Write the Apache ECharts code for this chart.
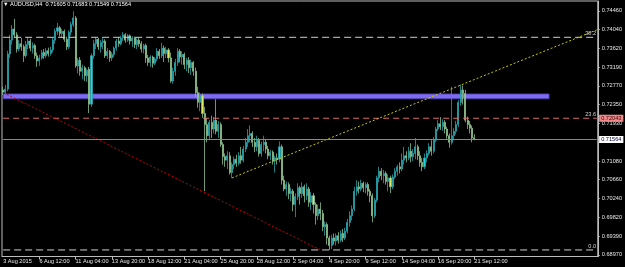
<!DOCTYPE html>
<html><head><meta charset="utf-8">
<script src="https://cdn.jsdelivr.net/npm/echarts@6/dist/echarts.min.js"></script>
<style>html,body{margin:0;padding:0;background:#000}#c{width:625px;height:267px}</style>
</head><body><div id="c"></div>
<script>
const symbolName = 'AUDUSD,H4';
const xTickLabels = ['3 Aug 2015','6 Aug 12:00','11 Aug 04:00','13 Aug 20:00','18 Aug 12:00','21 Aug 04:00','25 Aug 20:00','28 Aug 12:00','2 Sep 04:00','4 Sep 20:00','9 Sep 12:00','14 Sep 04:00','16 Sep 20:00','21 Sep 12:00'];
const barsPerLabel = 16;
const totalSlots = 263;
const yTickValues = [0.74460,0.74040,0.73620,0.73190,0.72770,0.72350,0.71930,0.71510,0.71080,0.70660,0.70240,0.69820,0.69390,0.68970];
const yMin = 0.68932, yMax = 0.74681;
// [open, close, low, high]
const ohlc = [
[.7268,.7263,.7257,.7275],[.7263,.7270,.7259,.7279],[.7270,.7349,.7265,.7356],[.7349,.7380,.7340,.7392],[.7380,.7405,.7370,.7414],
[.7405,.7392,.7385,.7428],[.7392,.7360,.7352,.7398],[.7360,.7372,.7355,.7380],[.7372,.7365,.7356,.7385],[.7365,.7345,.7331,.7370],
[.7345,.7370,.7340,.7378],[.7370,.7378,.7360,.7387],[.7378,.7362,.7355,.7383],[.7362,.7368,.7350,.7375],[.7368,.7345,.7338,.7372],
[.7345,.7333,.7320,.7352],[.7333,.7340,.7322,.7347],[.7340,.7352,.7336,.7358],[.7352,.7345,.7338,.7360],[.7345,.7356,.7340,.7362],
[.7356,.7350,.7343,.7363],[.7350,.7358,.7345,.7365],[.7358,.7380,.7352,.7385],[.7380,.7400,.7372,.7406],[.7400,.7408,.7392,.7419],
[.7408,.7395,.7388,.7412],[.7395,.7400,.7385,.7405],[.7400,.7382,.7376,.7404],[.7382,.7365,.7358,.7388],[.7365,.7398,.7360,.7402],
[.7398,.7415,.7390,.7421],[.7415,.7430,.7410,.7445],[.7430,.7322,.7318,.7434],[.7322,.7335,.7305,.7340],[.7335,.7310,.7300,.7342],
[.7310,.7318,.7292,.7325],[.7318,.7300,.7288,.7322],[.7300,.7312,.7286,.7316],[.7315,.7236,.7216,.7320],[.7236,.7345,.7230,.7350],
[.7345,.7372,.7338,.7380],[.7372,.7382,.7360,.7387],[.7382,.7365,.7358,.7385],[.7365,.7375,.7352,.7380],[.7375,.7378,.7360,.7385],
[.7378,.7345,.7340,.7382],[.7345,.7355,.7338,.7362],[.7355,.7340,.7331,.7358],[.7340,.7348,.7333,.7353],[.7348,.7362,.7342,.7366],
[.7362,.7378,.7356,.7383],[.7378,.7372,.7365,.7387],[.7372,.7385,.7368,.7390],[.7385,.7392,.7378,.7398],[.7392,.7380,.7374,.7396],
[.7380,.7390,.7376,.7394],[.7390,.7378,.7370,.7393],[.7378,.7385,.7365,.7389],[.7385,.7370,.7362,.7388],[.7370,.7380,.7360,.7384],
[.7380,.7372,.7365,.7385],[.7372,.7360,.7352,.7378],[.7360,.7368,.7350,.7372],[.7368,.7340,.7329,.7372],[.7340,.7330,.7322,.7347],
[.7330,.7342,.7320,.7346],[.7342,.7328,.7318,.7345],[.7328,.7338,.7324,.7342],[.7338,.7355,.7332,.7362],[.7355,.7345,.7338,.7360],
[.7345,.7362,.7340,.7374],[.7362,.7350,.7331,.7368],[.7350,.7358,.7340,.7365],[.7358,.7340,.7330,.7362],[.7340,.7288,.7284,.7352],
[.7288,.7310,.7282,.7318],[.7310,.7330,.7300,.7338],[.7330,.7355,.7322,.7362],[.7355,.7342,.7330,.7360],[.7342,.7348,.7325,.7355],
[.7348,.7325,.7315,.7352],[.7325,.7335,.7310,.7340],[.7335,.7318,.7306,.7342],[.7318,.7330,.7302,.7336],[.7330,.7310,.7300,.7333],
[.7310,.7262,.7252,.7318],[.7262,.7240,.7228,.7275],[.7240,.7255,.7220,.7262],[.7255,.7215,.7205,.7260],[.7215,.7190,.7040,.7230],
[.7190,.7165,.7150,.7205],[.7165,.7195,.7155,.7200],[.7195,.7180,.7160,.7210],[.7180,.7200,.7170,.7207],[.7200,.7175,.7168,.7247],
[.7175,.7190,.7160,.7198],[.7190,.7145,.7140,.7195],[.7145,.7118,.7100,.7150],[.7118,.7110,.7095,.7125],[.7110,.7120,.7090,.7130],
[.7120,.7082,.7078,.7128],[.7082,.7100,.7070,.7105],[.7100,.7112,.7090,.7118],[.7112,.7103,.7095,.7122],[.7103,.7120,.7098,.7128],
[.7120,.7110,.7102,.7140],[.7110,.7135,.7105,.7142],[.7135,.7150,.7128,.7160],[.7150,.7165,.7140,.7180],[.7165,.7170,.7150,.7188],
[.7170,.7150,.7140,.7175],[.7150,.7140,.7128,.7160],[.7140,.7155,.7130,.7165],[.7155,.7125,.7118,.7160],[.7125,.7145,.7118,.7152],
[.7145,.7150,.7130,.7165],[.7150,.7135,.7125,.7158],[.7135,.7120,.7112,.7142],[.7120,.7128,.7110,.7133],[.7128,.7108,.7100,.7132],
[.7108,.7115,.7082,.7120],[.7115,.7112,.7100,.7125],[.7112,.7140,.7105,.7152],[.7140,.7065,.7055,.7145],[.7065,.7045,.7040,.7075],
[.7045,.7055,.7030,.7062],[.7055,.7035,.7022,.7060],[.7035,.7040,.7018,.7048],[.7040,.7010,.6995,.7045],[.7010,.7028,.6982,.7035],
[.7028,.7048,.7020,.7058],[.7048,.7035,.7010,.7052],[.7035,.7050,.7025,.7060],[.7050,.7030,.7015,.7055],[.7030,.7045,.7020,.7058],
[.7045,.7015,.7005,.7050],[.7015,.7030,.6998,.7038],[.7030,.7010,.6990,.7036],[.7010,.6985,.6965,.7015],[.6985,.7000,.6975,.7010],
[.7000,.6990,.6975,.7015],[.6990,.6960,.6950,.6998],[.6960,.6965,.6940,.6972],[.6965,.6935,.6920,.6970],[.6935,.6918,.6908,.6940],
[.6918,.6935,.6910,.6942],[.6935,.6928,.6920,.6945],[.6928,.6940,.6918,.6945],[.6940,.6930,.6922,.6948],[.6930,.6945,.6925,.6952],
[.6945,.6935,.6926,.6955],[.6935,.6950,.6930,.6958],[.6950,.6970,.6945,.6978],[.6970,.6985,.6960,.6995],[.6985,.7000,.6975,.7008],
[.7000,.7040,.6995,.7050],[.7040,.7050,.7030,.7065],[.7050,.7045,.7035,.7062],[.7045,.7058,.7040,.7066],[.7058,.7048,.7038,.7062],
[.7048,.7055,.7035,.7060],[.7055,.7040,.7030,.7060],[.7040,.7030,.7015,.7045],[.7030,.6985,.6970,.7035],[.6985,.7020,.6980,.7025],
[.7020,.7070,.7015,.7075],[.7070,.7085,.7060,.7095],[.7085,.7075,.7065,.7092],[.7075,.7080,.7058,.7088],[.7080,.7062,.7055,.7085],
[.7062,.7070,.7040,.7078],[.7070,.7050,.7036,.7075],[.7050,.7072,.7045,.7078],[.7072,.7085,.7068,.7092],[.7085,.7095,.7075,.7100],
[.7095,.7090,.7080,.7105],[.7090,.7110,.7085,.7125],[.7110,.7120,.7100,.7140],[.7120,.7115,.7105,.7130],[.7115,.7130,.7110,.7140],
[.7130,.7118,.7105,.7148],[.7118,.7125,.7108,.7135],[.7125,.7140,.7112,.7160],[.7140,.7120,.7110,.7145],[.7120,.7105,.7095,.7130],
[.7105,.7095,.7085,.7115],[.7095,.7115,.7090,.7125],[.7115,.7125,.7105,.7132],[.7125,.7140,.7120,.7148],[.7140,.7130,.7120,.7155],
[.7130,.7155,.7125,.7162],[.7155,.7180,.7150,.7185],[.7180,.7192,.7175,.7200],[.7192,.7185,.7178,.7207],[.7185,.7195,.7176,.7202],
[.7195,.7180,.7170,.7200],[.7180,.7165,.7158,.7185],[.7165,.7150,.7138,.7170],[.7150,.7165,.7145,.7275],[.7165,.7175,.7155,.7182],
[.7175,.7190,.7168,.7198],[.7190,.7240,.7185,.7245],[.7240,.7268,.7232,.7280],[.7268,.7260,.7235,.7278],[.7260,.7200,.7195,.7268],
[.7200,.7190,.7180,.7208],[.7190,.7182,.7170,.7198],[.7182,.7160,.7150,.7188],[.71605,.71564,.71549,.71683]
];
const bidPrice = 0.71564;
const redLevel = 0.72043;
const fibTop = {name:'38.2', value:0.73864};
const fibMid = {name:'23.6', value:0.72043};
const fibZero = {name:'0.0', value:0.69079};
const zoneLow = 0.7248, zoneHigh = 0.7259, zoneEndSlot = 241;
const trendUp = [[101,0.7070],[262,0.7403]];
const trendDown = [[0,0.7262],[140,0.6908]];

const categories = Array.from({length: totalSlots}, (_, i) => String(i));
const lastBar = ohlc[ohlc.length - 1];
const fmt = v => v.toFixed(5);
const showIdx = i => i % barsPerLabel === 0 && i / barsPerLabel < xTickLabels.length;
const FONT = 'Liberation Sans';
const FS = 5.6;
const lastSlot = totalSlots - 1;

// horizontal level drawn as a two-point line series across the whole plot
function level(value, lineStyle, endLabel, z) {
  return {
    type: 'line', silent: true, z: z || 3, animation: false,
    symbol: 'rect', symbolSize: 1, showSymbol: true, showAllSymbol: true,
    lineStyle: lineStyle,
    itemStyle: {color: 'rgba(0,0,0,0)', borderWidth: 0},
    data: [
      {value: [0, value], label: {show: false}},
      {value: [lastSlot, value], label: Object.assign({show: true, fontSize: FS, fontFamily: FONT}, endLabel)}
    ]
  };
}

const chart = echarts.init(document.getElementById('c'), null, {renderer:'canvas'});
chart.setOption({
  backgroundColor: '#000',
  animation: false,
  title: {
    text: '\u25BC ' + symbolName + '  ' + [lastBar[0], lastBar[3], lastBar[2], lastBar[1]].map(fmt).join(' '),
    left: 3, top: 1, padding: 0,
    textStyle: {color:'#ffffff', fontSize: FS, fontWeight:'normal', fontFamily: FONT}
  },
  grid: {left: 2, right: 24.5, top: 1, bottom: 10.5, show: true, borderColor: '#bdbdbd', borderWidth: 1, backgroundColor: '#000'},
  xAxis: {
    type: 'category', data: categories, boundaryGap: true,
    axisLine: {show: true, lineStyle: {color: '#bdbdbd'}},
    axisTick: {show: true, alignWithLabel: true, length: 3, interval: (i) => showIdx(i) && i > 0, lineStyle: {color: '#bdbdbd'}},
    axisLabel: {
      show: true, interval: (i) => showIdx(i), margin: 2, align: 'left',
      color: '#e8e8e8', fontSize: FS, fontFamily: FONT,
      formatter: (v, i) => showIdx(i) ? xTickLabels[i / barsPerLabel] : ''
    },
    splitLine: {show: false}
  },
  yAxis: {
    type: 'value', position: 'right', min: yMin, max: yMax,
    axisLine: {show: true, lineStyle: {color: '#bdbdbd'}},
    axisTick: {show: true, length: 2, customValues: yTickValues, lineStyle: {color: '#bdbdbd'}},
    axisLabel: {show: true, customValues: yTickValues, margin: 4, color: '#e8e8e8', fontSize: FS, fontFamily: FONT, formatter: v => fmt(v)},
    splitLine: {show: false}
  },
  series: [
    {
      type: 'candlestick', data: ohlc, barWidth: '68%', z: 2,
      itemStyle: {color: '#22d6e4', color0: '#dde65e', borderColor: '#2a9ea8', borderColor0: '#86bf92', borderWidth: 0.8}
    },
    level(bidPrice, {color: '#8a8a8a', type: 'solid', width: 1},
      {position: 'right', distance: 2, formatter: fmt(bidPrice), backgroundColor: '#ffffff', color: '#000040', padding: [1,2,0,2]}, 5),
    level(fibTop.value, {color: '#cfcfcf', type: [7,4], width: 1},
      {position: 'left', distance: 0, offset: [0, -4], formatter: fibTop.name, color: '#d0d0d0'}, 3),
    level(fibZero.value, {color: '#cfcfcf', type: [7,4], width: 1},
      {position: 'left', distance: 0, offset: [0, -4], formatter: fibZero.name, color: '#d0d0d0'}, 3),
    level(fibMid.value, {color: '#e06a6a', type: [6,4], width: 1},
      {position: 'left', distance: 0, offset: [0, -4], formatter: fibMid.name, color: '#d0d0d0'}, 3),
    level(redLevel, {opacity: 0},
      {position: 'right', distance: 2, formatter: fmt(redLevel), backgroundColor: '#f08a8a', color: '#3a0000', padding: [1,2,0,2]}, 5),
    {
      type: 'line', data: trendUp, symbol: 'none', z: 3, silent: true,
      lineStyle: {color: '#c8c800', width: 1, type: [2,2]}
    },
    {
      type: 'line', data: trendDown, symbol: 'none', z: 3, silent: true,
      lineStyle: {color: '#c80000', width: 1, type: [2,2]},
      markArea: {
        silent: true,
        itemStyle: {color: '#7e6cf0', borderColor: '#4d3db0', borderWidth: 0.8},
        data: [[{xAxis: 0, yAxis: zoneHigh}, {xAxis: zoneEndSlot, yAxis: zoneLow}]]
      }
    }
  ]
});
</script></body></html>
